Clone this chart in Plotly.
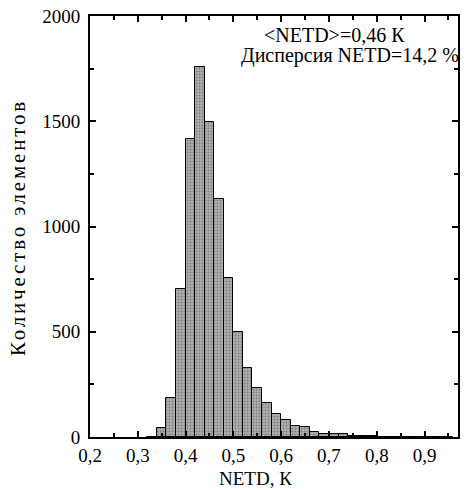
import plotly.graph_objects as go

bin_left = [0.32, 0.34, 0.36, 0.38, 0.40, 0.42, 0.44, 0.46, 0.48, 0.50, 0.52, 0.54,
            0.56, 0.58, 0.60, 0.62, 0.64, 0.66, 0.68, 0.70, 0.72, 0.74, 0.76, 0.78,
            0.80, 0.82, 0.84, 0.86, 0.88, 0.90, 0.92, 0.94]
counts = [2, 45, 185, 705, 1415, 1760, 1495, 1130, 755, 500, 330, 235,
          160, 108, 82, 50, 46, 24, 12, 16, 12, 6, 4, 3,
          2, 2, 1, 1, 1, 1, 1, 1]
bin_width = 0.02

x_tickvals = [0.2, 0.3, 0.4, 0.5, 0.6, 0.7, 0.8, 0.9]
x_ticktext = ["0,2", "0,3", "0,4", "0,5", "0,6", "0,7", "0,8", "0,9"]
y_tickvals = [0, 500, 1000, 1500, 2000]
y_ticktext = ["0", "500", "1000", "1500", "2000"]

annot_line1 = "&lt;NETD&gt;=0,46 К"
annot_line2 = "Дисперсия NETD=14,2 %"
x_title = "NETD, К"
y_title = "Количество элементов"

centers = [b + bin_width / 2 for b in bin_left]

FONT = "Liberation Serif"
W, H = 464, 490
L, R, T, B = 90, 6, 16, 53
PW, PH = W - L - R, H - T - B


def px_to_paper(px, py):
    return (px - L) / PW, (H - B - py) / PH


fig = go.Figure(go.Bar(
    x=centers, y=counts, width=bin_width,
    marker=dict(color="#a8a8a8", line=dict(color="black", width=1),
                pattern=dict(shape=".", fgcolor="#444444", bgcolor="#b0b0b0", size=3, solidity=0.3)),
))

axis_common = dict(
    showgrid=False, zeroline=False, showline=True, linecolor="black", linewidth=2,
    mirror="ticks", ticks="inside", ticklen=6, tickwidth=1.5, tickcolor="black",
    tickfont=dict(family=FONT, size=19, color="black"), automargin=False,
)

fig.update_xaxes(
    range=[0.2, 0.97], tickvals=x_tickvals, ticktext=x_ticktext,
    minor=dict(ticks="inside", dtick=0.05, tick0=0.25, ticklen=4, tickcolor="black"),
    **axis_common,
)
fig.update_yaxes(
    range=[0, 2000], tickvals=y_tickvals, ticktext=y_ticktext,
    minor=dict(ticks="inside", dtick=250, ticklen=4, tickcolor="black"),
    ticklabelstandoff=4,
    **axis_common,
)

ax, ay = px_to_paper(334, 35)
fig.add_annotation(xref="paper", yref="paper", x=ax, y=ay, xanchor="center", yanchor="middle",
                   text=annot_line1, showarrow=False, font=dict(family=FONT, size=20, color="black"))
ax, ay = px_to_paper(461, 56)
fig.add_annotation(xref="paper", yref="paper", x=ax, y=ay, xanchor="right", yanchor="middle",
                   text=annot_line2, showarrow=False, font=dict(family=FONT, size=20, color="black"))
ax, ay = px_to_paper(255, 479)
fig.add_annotation(xref="paper", yref="paper", x=ax, y=ay, xanchor="center", yanchor="middle",
                   text=x_title, showarrow=False, font=dict(family=FONT, size=19, color="black"))
ax, ay = px_to_paper(18, 228)
fig.add_annotation(xref="paper", yref="paper", x=ax, y=ay, xanchor="center", yanchor="middle",
                   text='<span style="letter-spacing:2.8px">' + y_title + '</span>',
                   textangle=-90, showarrow=False, font=dict(family=FONT, size=21, color="black"))

fig.update_layout(
    width=W, height=H,
    margin=dict(l=L, r=R, t=T, b=B),
    paper_bgcolor="white", plot_bgcolor="white",
    showlegend=False, bargap=0,
)

fig.write_html("out.html", config={"displayModeBar": False},
               post_script="document.body.style.margin='0px';")
